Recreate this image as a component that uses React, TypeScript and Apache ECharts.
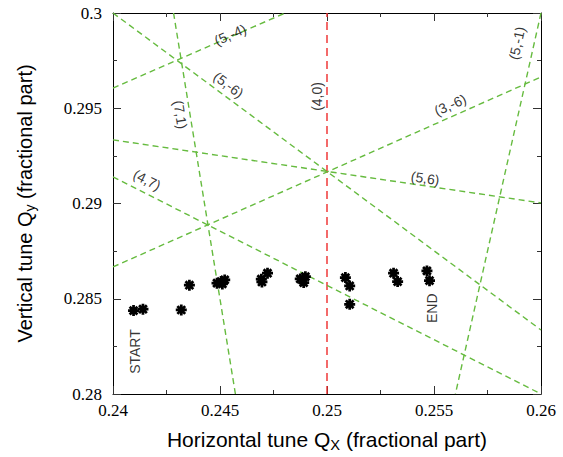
import React, { useEffect, useRef } from "react";
import * as echarts from "echarts";

// Axis ranges and tick labels
const xRange = [0.24, 0.26];
const yRange = [0.28, 0.3];
const xTickLabels = ["0.24", "0.245", "0.25", "0.255", "0.26"];
const yTickLabels = ["0.28", "0.285", "0.29", "0.295", "0.3"];

// Measured tunes (Qx, Qy), START -> END
const tunePoints: [number, number][] = [
  [0.24096, 0.28438],
  [0.2414, 0.28445],
  [0.24319, 0.28441],
  [0.24357, 0.28571],
  [0.24486, 0.28582],
  [0.24505, 0.2859],
  [0.24522, 0.28599],
  [0.24511, 0.28578],
  [0.24696, 0.28588],
  [0.24693, 0.28603],
  [0.24722, 0.28634],
  [0.24875, 0.28604],
  [0.24899, 0.28616],
  [0.24891, 0.28585],
  [0.25086, 0.28611],
  [0.25106, 0.28567],
  [0.25106, 0.28471],
  [0.25311, 0.28634],
  [0.2533, 0.2859],
  [0.25467, 0.28646],
  [0.25479, 0.28595],
];

// Resonance lines: label and end points in tune space
const resonanceNames = ["(5,-4)", "(5,-6)", "(7,1)", "(4,0)", "(3,-6)", "(5,6)", "(4,7)", "(5,-1)"];
const resonanceEnds: [number, number][][] = [
  [[0.24, 0.29606], [0.24805, 0.3]],
  [[0.24, 0.3], [0.26, 0.28336]],
  [[0.24283, 0.3], [0.24572, 0.28]],
  [[0.25, 0.28], [0.25, 0.3]],
  [[0.24, 0.28667], [0.26, 0.29664]],
  [[0.24, 0.29334], [0.26, 0.29003]],
  [[0.24, 0.2914], [0.26, 0.28]],
  [[0.26, 0.3], [0.256, 0.28]],
];
const resonanceIsMain = [false, false, false, true, false, false, false, false];

// Annotation texts: position (Qx, Qy), text, rotation (deg)
const annotationPos: [number, number][] = [
  [0.24548, 0.29886],
  [0.2454, 0.29623],
  [0.24315, 0.29466],
  [0.24953, 0.29562],
  [0.24159, 0.29124],
  [0.25576, 0.29518],
  [0.25459, 0.29133],
  [0.25888, 0.29842],
  [0.24104, 0.28223],
  [0.25491, 0.2845],
];
const annotationText = ["(5,-4)", "(5,-6)", "(7,1)", "(4,0)", "(4,7)", "(3,-6)", "(5,6)", "(5,-1)", "START", "END"];
const annotationRot = [23.6, -36.6, -80.8, 90, -26.8, 24, -8.4, 77.3, 90, 90];

const GREEN = "#66bb3f";
const RED = "#ee2a2a";

// 8-armed asterisk as a filled path
const ASTERISK =
  "path://M0 7.5 L20 7.5 L20 12.5 L0 12.5 Z M7.5 0 L12.5 0 L12.5 20 L7.5 20 Z " +
  "M4.7 1.16 L18.84 15.3 L15.3 18.84 L1.16 4.7 Z " +
  "M1.16 15.3 L15.3 1.16 L18.84 4.7 L4.7 18.84 Z";

const fmt = (labels: string[], lo: number, step: number) => (v: number) => {
  const i = Math.round((v - lo) / step);
  return labels[i] ?? "";
};

export default function App() {
  const ref = useRef<HTMLDivElement>(null);
  useEffect(() => {
    if (!ref.current) return;
    const chart = echarts.init(ref.current, undefined, { renderer: "svg" });
    const serif = "Liberation Serif";
    const sans = "Liberation Sans";
    const tickCommon = {
      axisLine: { show: true, lineStyle: { color: "#000", width: 1 } },
      axisTick: { show: true, inside: true, length: 8, lineStyle: { color: "#333" } },
      minorTick: { show: true, splitNumber: 2, length: 4, lineStyle: { color: "#333" } },
      splitLine: { show: false },
      minorSplitLine: { show: false },
    };
    const richFor = (size: number) => ({
      m: { fontFamily: sans, fontSize: size, color: "#000" },
      s: { fontFamily: sans, fontSize: size * 0.7, color: "#000", padding: [10, 0, 0, 0] },
    });
    const tickRich = {
      t: { fontFamily: serif, fontSize: 17, color: "#000" },
    };
    chart.setOption({
      animation: false,
      backgroundColor: "#fff",
      grid: { left: 113, right: 22, top: 13, bottom: 63 },
      xAxis: [
        {
          type: "value",
          min: xRange[0],
          max: xRange[1],
          interval: 0.005,
          position: "bottom",
          ...tickCommon,
          axisLabel: {
            show: true,
            margin: 8,
            fontFamily: serif,
            fontSize: 17,
            color: "#000",
            rich: tickRich,
            formatter: (v: number) => "{t|" + fmt(xTickLabels, xRange[0], 0.005)(v) + "}",
          },
          name: "{m|Horizontal tune Q}{s|X}{m| (fractional part)}",
          nameLocation: "middle",
          nameGap: 33,
          nameTextStyle: { fontFamily: sans, rich: richFor(21) },
        },
        {
          type: "value",
          min: xRange[0],
          max: xRange[1],
          interval: 0.005,
          position: "top",
          ...tickCommon,
          axisLabel: { show: false },
        },
      ],
      yAxis: [
        {
          type: "value",
          min: yRange[0],
          max: yRange[1],
          interval: 0.005,
          position: "left",
          ...tickCommon,
          axisLabel: {
            show: true,
            margin: 11,
            fontFamily: serif,
            fontSize: 17,
            color: "#000",
            rich: tickRich,
            formatter: (v: number) => "{t|" + fmt(yTickLabels, yRange[0], 0.005)(v) + "}",
          },
          name: "{m|Vertical tune Q}{s|y}{m| (fractional part)}",
          nameLocation: "middle",
          nameRotate: 90,
          nameGap: 76,
          nameTextStyle: { fontFamily: sans, rich: richFor(20) },
        },
        {
          type: "value",
          min: yRange[0],
          max: yRange[1],
          interval: 0.005,
          position: "right",
          ...tickCommon,
          axisLabel: { show: false },
        },
      ],
      series: [
        ...resonanceEnds.map((pts, i) => ({
          type: "line",
          name: resonanceNames[i],
          data: pts,
          showSymbol: false,
          symbol: "none",
          silent: true,
          z: 2,
          lineStyle: {
            color: resonanceIsMain[i] ? RED : GREEN,
            width: 1.4,
            type: resonanceIsMain[i] ? [8, 5] : [6, 4],
          },
        })),
        {
          type: "scatter",
          data: tunePoints,
          symbol: ASTERISK,
          symbolSize: 11,
          itemStyle: { color: "#000", opacity: 1 },
          silent: true,
          z: 5,
        },
        {
          type: "scatter",
          silent: true,
          symbolSize: 1,
          itemStyle: { color: "rgba(0,0,0,0)" },
          z: 6,
          data: annotationPos.map((p, i) => ({
            value: p,
            name: annotationText[i],
            label: { rotate: annotationRot[i] },
          })),
          label: {
            show: true,
            position: "inside",
            formatter: "{b}",
            fontFamily: sans,
            fontSize: 14,
            color: "#000",
            textBorderWidth: 0,
          },
        },
      ],
    });
    return () => chart.dispose();
  }, []);
  return (
    <div
      ref={ref}
      style={{ position: "fixed", left: 0, top: 0, width: 563, height: 457 }}
    />
  );
}
